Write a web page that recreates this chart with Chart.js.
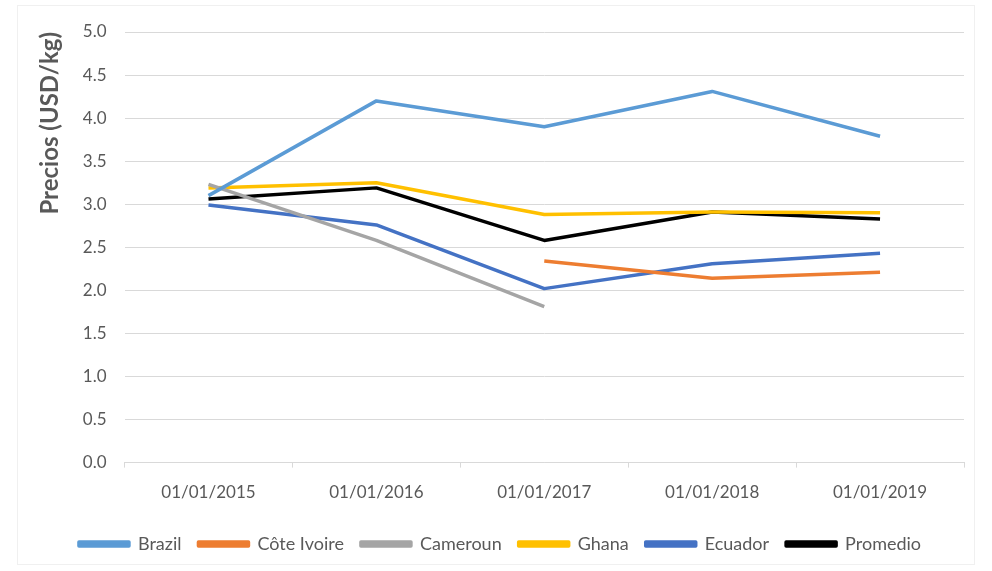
<!DOCTYPE html>
<html><head><meta charset="utf-8">
<script src="https://cdn.jsdelivr.net/npm/chart.js@4/dist/chart.umd.min.js"></script>
<style>
html,body{margin:0;padding:0;background:#fff;}
#frame{position:absolute;left:17px;top:5px;width:958px;height:560px;border:1px solid #f0f0f0;box-sizing:border-box;}
#wrap{position:absolute;left:0;top:0;width:992px;height:571px;}
</style></head>
<body>
<div id="frame"></div>
<div id="wrap"><canvas id="c" width="992" height="571"></canvas></div>
<script>
const categories = ["01/01/2015","01/01/2016","01/01/2017","01/01/2018","01/01/2019"];
const brazil     = [3.10, 4.20, 3.90, 4.31, 3.79];
const coteIvoire = [null, null, 2.34, 2.14, 2.21];
const cameroun   = [3.23, 2.58, 1.81, null, null];
const ghana      = [3.19, 3.25, 2.88, 2.91, 2.90];
const ecuador    = [2.99, 2.76, 2.02, 2.31, 2.43];
const promedio   = [3.06, 3.19, 2.58, 2.91, 2.83];
const yTicks = [0,0.5,1,1.5,2,2.5,3,3.5,4,4.5,5];

const mk = (label, data, color) => ({label, data, borderColor: color, backgroundColor: color,
  borderWidth: 3.5, pointRadius: 0, tension: 0, spanGaps: false, borderJoinStyle: 'round'});

new Chart(document.getElementById('c'), {
  type: 'line',
  data: {
    labels: categories,
    datasets: [
      mk('Brazil', brazil, '#5B9BD5'),
      mk('Côte Ivoire', coteIvoire, '#ED7D31'),
      mk('Cameroun', cameroun, '#A5A5A5'),
      mk('Ghana', ghana, '#FFC000'),
      mk('Ecuador', ecuador, '#4472C4'),
      mk('Promedio', promedio, '#000000')
    ]
  },
  options: {
    responsive: false,
    animation: false,
    layout: {padding: {left: 36, right: 28, top: 32, bottom: 8}},
    plugins: {
      tooltip: {enabled: false},
      legend: {
        position: 'bottom',
        labels: {
          boxWidth: 50, boxHeight: 4, padding: 17,
          color: '#595959',
          font: {family: 'Lato', size: 18}
        }
      }
    },
    scales: {
      x: {
        offset: true,
        grid: {display: true, drawOnChartArea: false, color: '#d9d9d9', tickLength: 5, offset: true},
        border: {display: true, color: '#d9d9d9'},
        ticks: {color: '#595959', font: {family: 'Lato', size: 17}, padding: 15, maxRotation: 0}
      },
      y: {
        min: 0, max: 5,
        afterBuildTicks: (s) => { s.ticks = yTicks.map(v => ({value: v})); },
        grid: {color: '#d9d9d9', drawTicks: false},
        border: {display: false},
        ticks: {color: '#595959', font: {family: 'Lato', size: 17}, padding: 18,
          callback: (v) => Number(v).toFixed(1)},
        title: {display: true, text: 'Precios (USD/kg)', color: '#595959', align: 'end',
          font: {family: 'Lato', size: 24, weight: 'bold'}, padding: {top: 0, bottom: 0}}
      }
    }
  }
});
</script>
</body></html>
